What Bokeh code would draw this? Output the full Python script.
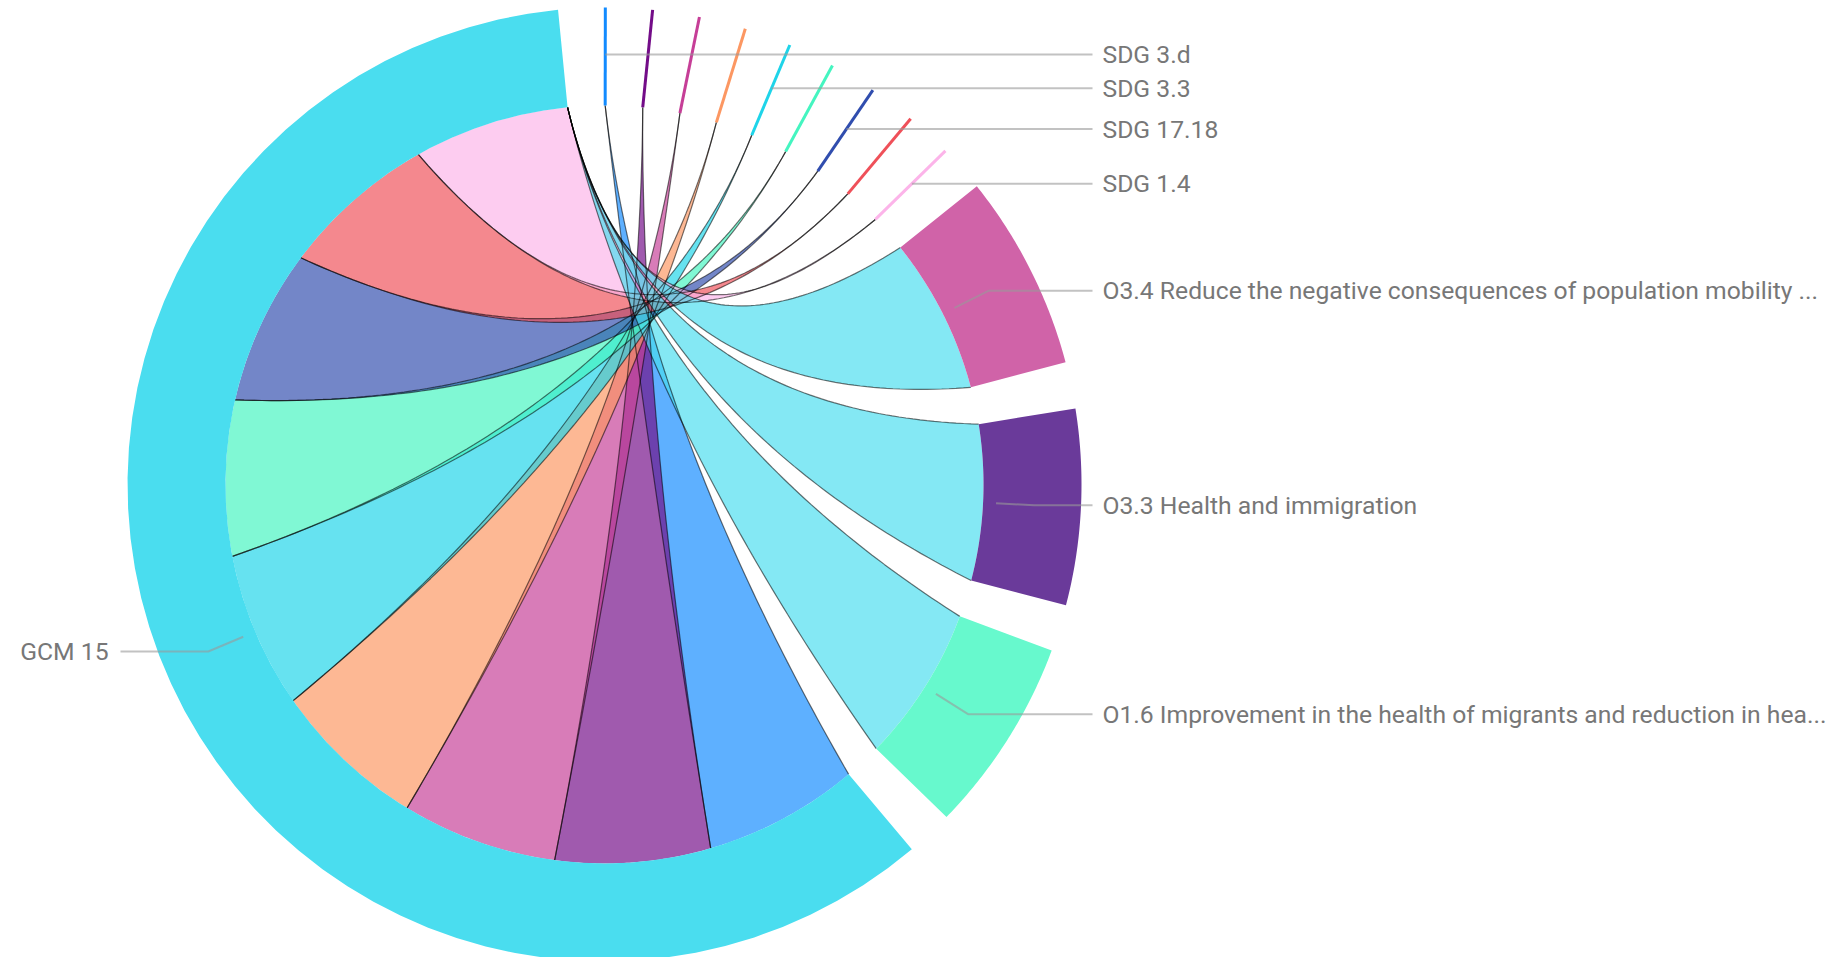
import numpy as np
from bokeh.plotting import figure
from bokeh.models import Range1d
from bokeh.embed import file_html
from bokeh.resources import INLINE
from bokeh.core.properties import value

# ---------------- data ----------------
node_keys = ["S1", "S2", "S3", "S4", "S5", "S6", "S7", "S8", "S9",
             "O34", "O33", "O16", "GCM15"]
node_labels = ["SDG 3.d", "", "", "", "SDG 3.3", "", "SDG 17.18", "", "SDG 1.4",
               "O3.4 Reduce the negative consequences of population mobility ...",
               "O3.3 Health and immigration",
               "O1.6 Improvement in the health of migrants and reduction in hea...",
               "GCM 15"]
node_colors = ["#128BFF", "#730C88", "#C63E97", "#FC9762", "#1ED4E9", "#44F5C0",
               "#304DAE", "#EF5059", "#FCB4E9", "#D063A8", "#6A3A9A", "#67F9CD",
               "#4ADDEF"]

link_from = ["S1", "S2", "S3", "S4", "S5", "S6", "S7", "S8", "S9",
             "GCM15", "GCM15", "GCM15"]
link_to = ["GCM15"] * 9 + ["O34", "O33", "O16"]
link_value = [1, 1, 1, 1, 1, 1, 1, 1, 1, 1, 1, 1]

# ---------------- geometry ----------------
W, H = 1846, 957
CX, CY = 604.0, 484.0
R_OUT, R_IN = 477.0, 379.0
GAP = 5.69
START = 89.9
KX, KY = 640.0, 413.0
LINK_ALPHA = 0.68


def pt(r, a):
    t = np.radians(a)
    return CX + r * np.cos(t), CY - r * np.sin(t)


def arc(r, a1, a2, n=60):
    aa = np.radians(np.linspace(a1, a2, n))
    return list(CX + r * np.cos(aa)), list(CY - r * np.sin(aa))


def bez(p0, p2, n=90):
    t = np.linspace(0, 1, n)
    x = (1 - t) ** 2 * p0[0] + 2 * (1 - t) * t * KX + t ** 2 * p2[0]
    y = (1 - t) ** 2 * p0[1] + 2 * (1 - t) * t * KY + t ** 2 * p2[1]
    return list(x), list(y)


idx = {k: i for i, k in enumerate(node_keys)}
N = len(node_keys)
in_sum = [0.0] * N
for f, t, v in zip(link_from, link_to, link_value):
    in_sum[idx[t]] += v
unit = (360.0 - GAP * N) / sum(in_sum)

node_start, node_end = [], []
a = START
for i in range(N):
    node_start.append(a)
    e = a - in_sum[i] * unit
    node_end.append(e)
    a = e - GAP

cursor = list(node_start)

p = figure(width=W, height=H, output_backend="svg", toolbar_location=None,
           x_range=Range1d(0, W), y_range=Range1d(H, 0),
           x_axis_type=None, y_axis_type=None, min_border=0)
p.grid.visible = False
p.outline_line_color = None
p.background_fill_color = "white"

# links
rib_xs, rib_ys, rib_col = [], [], []
edge_xs, edge_ys = [], []
for f, t, v in zip(link_from, link_to, link_value):
    fi, ti = idx[f], idx[t]
    s = pt(R_IN, node_end[fi])
    t1 = cursor[ti]
    t2 = t1 - v * unit
    cursor[ti] = t2
    T1 = pt(R_IN, t1)
    T2 = pt(R_IN, t2)
    bx1, by1 = bez(s, T1)
    ax, ay = arc(R_IN, t1, t2)
    bx2, by2 = bez(T2, s)
    rib_xs.append(bx1 + ax + bx2)
    rib_ys.append(by1 + ay + by2)
    rib_col.append(node_colors[fi])
    edge_xs += [bx1, bx2]
    edge_ys += [by1, by2]

p.patches(rib_xs, rib_ys, fill_color=rib_col, fill_alpha=LINK_ALPHA, line_color=None)
p.multi_line(edge_xs, edge_ys, line_color="#000000", line_alpha=0.55, line_width=1.2)

# nodes
n_xs, n_ys, n_col = [], [], []
s_xs, s_ys, s_col = [], [], []
for i in range(N):
    if in_sum[i] > 0:
        ox, oy = arc(R_OUT, node_start[i], node_end[i])
        ix, iy = arc(R_IN, node_end[i], node_start[i])
        n_xs.append(ox + ix)
        n_ys.append(oy + iy)
        n_col.append(node_colors[i])
    else:
        x1, y1 = pt(R_IN, node_start[i])
        x2, y2 = pt(R_OUT, node_start[i])
        s_xs.append([x1, x2])
        s_ys.append([y1, y2])
        s_col.append(node_colors[i])
p.patches(n_xs, n_ys, fill_color=n_col, line_color=None)
p.multi_line(s_xs, s_ys, line_color=s_col, line_width=3)

# labels
t_xs, t_ys = [], []
lx, ly, lt, rx, ry, rt = [], [], [], [], [], []
for i in range(N):
    if not node_labels[i]:
        continue
    m = (node_start[i] + node_end[i]) / 2
    k1 = pt(392, m)
    k2 = pt(430, m)
    if np.cos(np.radians(m)) >= 0:
        end_x = 1092
        rx.append(1102); ry.append(k2[1]); rt.append(node_labels[i])
    else:
        end_x = 120
        lx.append(108); ly.append(k2[1]); lt.append(node_labels[i])
    if in_sum[i] > 0:
        t_xs.append([k1[0], k2[0], end_x]); t_ys.append([k1[1], k2[1], k2[1]])
    else:
        t_xs.append([k2[0], end_x]); t_ys.append([k2[1], k2[1]])

p.multi_line(t_xs, t_ys, line_color="#999999", line_alpha=0.6, line_width=2)
p.text(rx, ry, text=rt, text_font=value("Roboto"), text_font_size="24.7px",
       text_color="#777777", text_align="left", text_baseline="middle")
p.text(lx, ly, text=lt, text_font=value("Roboto"), text_font_size="24.7px",
       text_color="#777777", text_align="right", text_baseline="middle")

open("out.html", "w").write(file_html(p, INLINE))
